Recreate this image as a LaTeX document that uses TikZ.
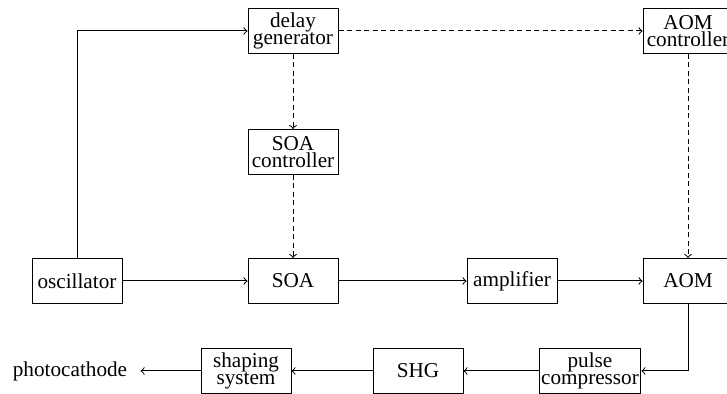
\documentclass[tikz,border=0pt]{standalone}
\usepackage{fontspec}
\setmainfont{Liberation Serif}
\usetikzlibrary{arrows}

\begin{document}
\begin{tikzpicture}[x=0.5pt,y=-0.5pt,line width=0.5pt,
    blk/.style={draw, align=center, minimum width=45pt, minimum height=22.5pt,
      inner sep=1pt, font=\fontsize{10.6pt}{8.6pt}\selectfont},
    ctl/.style={->, dash pattern=on 2.5pt off 1.75pt}]
      \useasboundingbox (0,0) rectangle (727,394);
      \node[blk] (dg) at (293,31) {delay\\generator};
      \node[blk] (aomc) at (688,31) {AOM\\controller};
      \node[blk] (soac) at (293,152) {SOA\\controller};
      \node[blk] (osc) at (77,281) {oscillator};
      \node[blk] (soa) at (293,281) {SOA};
      \node[blk] (amp) at (512,281) {amplifier};
      \node[blk] (aom) at (688,281) {AOM};
      \node[blk] (pc) at (590,371) {pulse\\compressor};
      \node[blk] (shg) at (418,371) {SHG};
      \node[blk] (shp) at (246,371) {shaping\\system};
      \node[font=\fontsize{10.6pt}{8.6pt}\selectfont, inner xsep=6.5pt] (cat) at (70,371) {photocathode};
      \draw [->] (osc) |- (dg);
      \draw [->] (osc) -- (soa);
      \draw [->] (soa) -- (amp);
      \draw [->] (amp) -- (aom);
      \draw [->] (aom) |- (pc);
      \draw [->] (pc) -- (shg);
      \draw [->] (shg) -- (shp);
      \draw [->] (shp) -- (cat);
      \draw [ctl] (dg) -- (aomc);
      \draw [ctl] (dg) -- (soac);
      \draw [ctl] (soac) -- (soa);
      \draw [ctl] (aomc) -- (aom);
    \end{tikzpicture}
\end{document}
